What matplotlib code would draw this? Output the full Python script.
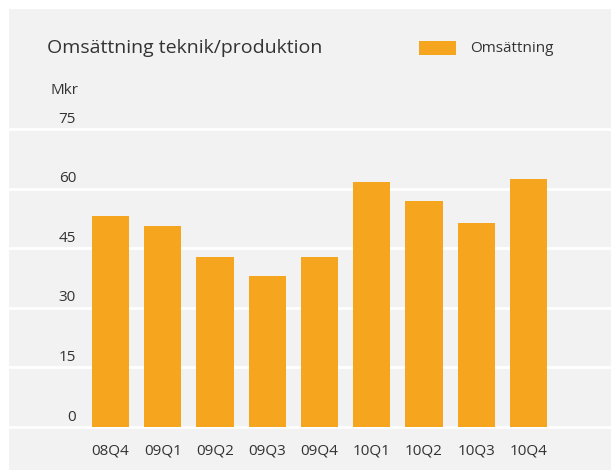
import matplotlib
matplotlib.use("Agg")
from matplotlib import pyplot as plt
from matplotlib.patches import Rectangle
import numpy as np

# data (Mkr)
quarters = ["08Q4", "09Q1", "09Q2", "09Q3", "09Q4", "10Q1", "10Q2", "10Q3", "10Q4"]
omsattning = [53.0, 50.5, 42.9, 37.9, 42.9, 61.6, 56.8, 51.3, 62.4]
y_ticks = [0, 15, 30, 45, 60, 75]

bar_color = "#f6a61e"
bg_color = "#f2f2f2"
text_color = "#333333"

plt.rcParams['font.family'] = ['Open Sans', 'DejaVu Sans']

W, H = 611, 470
fig = plt.figure(figsize=(W / 100, H / 100), dpi=100, facecolor="white")
ax = fig.add_axes([9 / W, 0, (W - 9) / W, (H - 9) / H], facecolor=bg_color)
for s in ax.spines.values():
    s.set_visible(False)
ax.set_xticks([])
ax.set_yticks([])

x = np.arange(len(quarters))
ax.set_xlim(-1.943, 9.579)
ax.set_ylim(-10.82, 105.2)

for t in y_ticks:
    ax.axhline(t, color="white", lw=2.0, zorder=1)
    ax.text((76 - 9) / (W - 9), t + 2.5, str(t), ha="right", va="center",
            fontsize=11, color=text_color,
            transform=ax.get_yaxis_transform())

ax.bar(x, omsattning, width=0.71, color=bar_color, zorder=2)

for xi, q in zip(x, quarters):
    ax.text(xi, -6.0, q, ha="center", va="center", fontsize=11, color=text_color)

fig.text(47 / W, 1 - 48 / H, "Omsättning teknik/produktion", ha="left", va="center",
         fontsize=14, color=text_color)
fig.text(50 / W, 1 - 90 / H, "Mkr", ha="left", va="center", fontsize=11, color=text_color)

fig.patches.append(Rectangle((419 / W, 1 - 55 / H), 37 / W, 14 / H, transform=fig.transFigure,
                             facecolor=bar_color, edgecolor="none"))
fig.text(470 / W, 1 - 49 / H, "Omsättning", ha="left", va="center", fontsize=11, color=text_color)

fig.savefig("out.png", dpi=100, facecolor="white")
